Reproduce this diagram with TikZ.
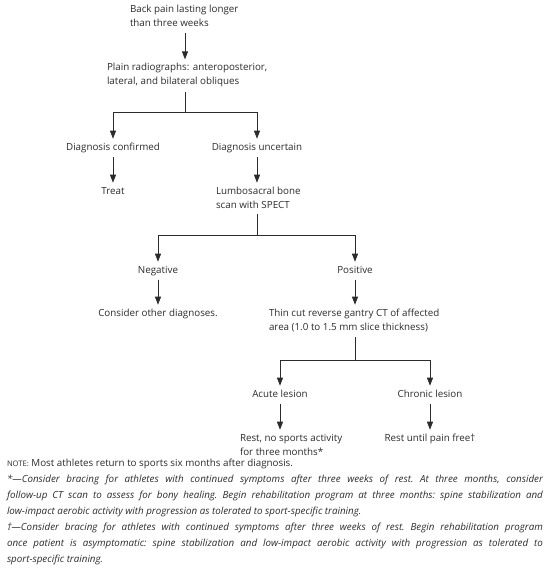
\documentclass[tikz,border=0pt]{standalone}
\usepackage{fontspec}
\setmainfont{Open Sans}
\usetikzlibrary{arrows.meta}
\definecolor{ink}{HTML}{2B2B2B}
\newcommand\twol[1]{\begin{tabular}[t]{@{}l@{}}#1\end{tabular}}
\begin{document}
\begin{tikzpicture}[x=1pt,y=-1pt,
  every node/.style={inner sep=0pt, outer sep=0pt, text=ink, font=\fontsize{9.8}{14}\selectfont, execute at begin node=\strut},
  lbl/.style={anchor=base},
  lft/.style={anchor=base west},
  ln/.style={draw=ink, line width=0.8pt},
  tip/.style={-{Triangle[length=8pt,width=6pt]}},
  arr/.style={ln, tip, shorten <=2.5pt, shorten >=1.5pt},
  brarr/.style={ln, tip, shorten >=1.5pt}]
\useasboundingbox (0,0) rectangle (550,574);

\node[lft] (back) at (130,12.7) {\twol{Back pain lasting longer\\than three weeks}};
\node[lft] (plain) at (107,70.7) {\twol{Plain radiographs: anteroposterior,\\lateral, and bilateral obliques}};
\coordinate (j1) at (185,112);
\node[lbl] (conf) at (113,150) {Diagnosis confirmed};
\node[lbl] (unc) at (257,150) {Diagnosis uncertain};
\node[lbl] (treat) at (113,194) {Treat};
\node[lft] (lumbo) at (216,194) {\twol{Lumbosacral bone\\scan with SPECT}};
\coordinate (j2) at (257,235);
\node[lbl] (neg) at (158,273) {Negative};
\node[lbl] (pos) at (355,273) {Positive};
\node[lbl] (cons) at (158,316) {Consider other diagnoses.};
\node[lft] (thin) at (269,316) {\twol{Thin cut reverse gantry CT of affected\\area (1.0 to 1.5 mm slice thickness)}};
\coordinate (j3) at (355,360);
\node[lbl] (acute) at (280,397) {Acute lesion};
\node[lbl] (chron) at (430,397) {Chronic lesion};
\node[lft] (rest1) at (240,441) {\twol{Rest, no sports activity\\for three months*}};
\node[lbl] (rest2) at (430,441) {Rest until pain free†};

\draw[arr] (back.south -| j1) -- (plain.north -| j1);
\draw[ln, shorten <=3pt] (plain.south -| j1) -- (j1);
\draw[brarr] (j1) -| (conf.north);
\draw[brarr] (j1) -| (unc.north);
\draw[arr] (conf.south) -- (treat.north);
\draw[arr] (unc.south) -- (unc.south |- lumbo.north);
\draw[ln, shorten <=2pt] (lumbo.south -| j2) -- (j2);
\draw[brarr] (j2) -| (neg.north);
\draw[brarr] (j2) -| (pos.north);
\draw[arr] (neg.south) -- (cons.north);
\draw[arr] (pos.south) -- (pos.south |- thin.north);
\draw[ln, shorten <=3pt] (thin.south -| j3) -- (j3);
\draw[brarr] (j3) -| (acute.north);
\draw[brarr] (j3) -| (chron.north);
\draw[arr] (acute.south) -- (acute.south |- rest1.north);
\draw[arr] (chron.south) -- (rest2.north);

\node[lft] (note) at (7,466) {\parbox[t]{536pt}{\fontsize{9.8}{16}\selectfont\frenchspacing
{\fontsize{7.6}{7}\selectfont NOTE:} Most athletes return to sports six months after diagnosis.\par
\itshape *—Consider bracing for athletes with continued symptoms after three weeks of rest. At three months, consider\linebreak
follow-up CT scan to assess for bony healing. Begin rehabilitation program at three months: spine stabilization and\linebreak
low-impact aerobic activity with progression as tolerated to sport-specific training.\par
†—Consider bracing for athletes with continued symptoms after three weeks of rest. Begin rehabilitation program\linebreak
once patient is asymptomatic: spine stabilization and low-impact aerobic activity with progression as tolerated to\linebreak
sport-specific training.}};
\end{tikzpicture}
\end{document}
